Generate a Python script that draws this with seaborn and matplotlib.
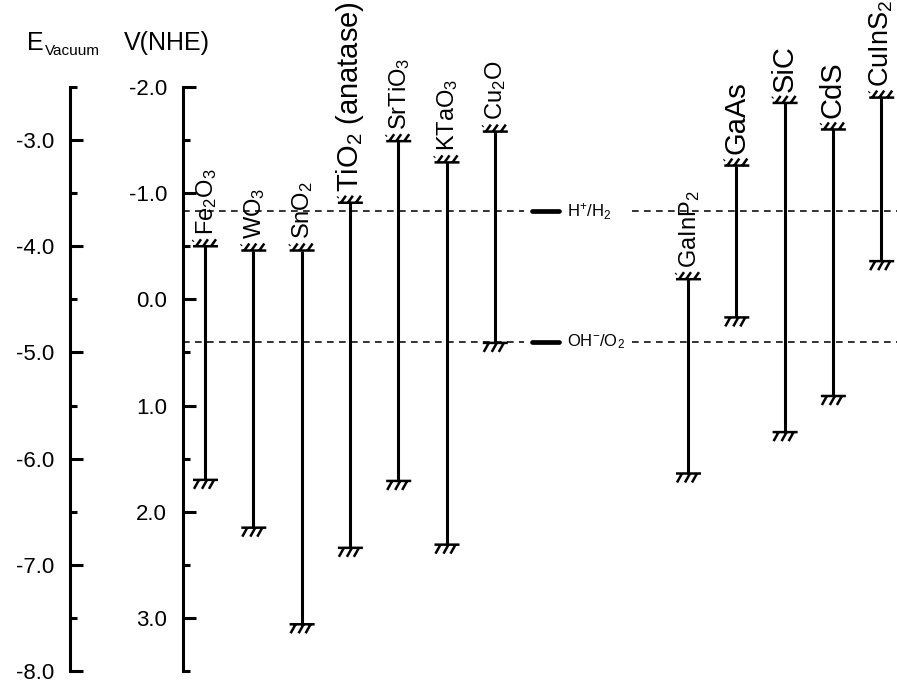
import numpy as np
import pandas as pd
import matplotlib
matplotlib.use("Agg")
import matplotlib.pyplot as plt
from matplotlib.path import Path
from matplotlib.ticker import MultipleLocator, FormatStrFormatter
import seaborn as sns

# ---------------- data ----------------
materials = [r"Fe$_2$O$_3$", r"WO$_3$", r"SnO$_2$", r"TiO$_2$ (anatase)", r"SrTiO$_3$",
             r"KTaO$_3$", r"Cu$_2$O", r"GaInP$_2$", r"GaAs", r"SiC", r"CdS", r"CuInS$_2$"]
cb_nhe = [-0.50, -0.46, -0.46, -0.91, -1.49, -1.29, -1.58, -0.19, -1.26, -1.85, -1.60, -1.90]
vb_nhe = [1.70, 2.15, 3.06, 2.34, 1.71, 2.31, 0.41, 1.64, 0.17, 1.25, 0.91, -0.36]
redox_labels = [r"H$^{+}$/H$_2$", r"OH$^{-}$/O$_2$"]
redox_levels = [-0.83, 0.40]
nhe_ticks = [-2.0, -1.0, 0.0, 1.0, 2.0, 3.0]
vac_ticks = [-3.0, -4.0, -5.0, -6.0, -7.0, -8.0]

# label font sizes (style, kept separate from the data)
label_sizes = [17, 17, 17, 21, 17, 17, 17, 17, 21, 21, 21, 19.5]

# ---------------- style ----------------
sns.set_style("ticks")
plt.rcParams["font.family"] = ["Liberation Sans", "DejaVu Sans"]
plt.rcParams["mathtext.fontset"] = "custom"
plt.rcParams["mathtext.rm"] = "Liberation Sans"
plt.rcParams["mathtext.it"] = "Liberation Sans:italic"
plt.rcParams["mathtext.bf"] = "Liberation Sans:bold"
plt.rcParams["mathtext.sf"] = "Liberation Sans"
plt.rcParams["axes.unicode_minus"] = False
for k in ["text.color", "axes.labelcolor", "xtick.color", "ytick.color", "axes.edgecolor"]:
    plt.rcParams[k] = "black"

W, H = 897, 684
fig = plt.figure(figsize=(W / 100, H / 100), dpi=100)
ax = fig.add_axes([183 / W, 13 / H, 714 / W, 584 / H])

# category positions: oxides group, a gap, then non-oxide group
n_first = 7
pos = [i if i < n_first else i + 3 for i in range(len(materials))]
df = pd.DataFrame({"material": materials, "pos": pos, "cb": cb_nhe, "vb": vb_nhe})

# cap markers (hatched "ground" symbols)
top_verts = [(-12, 0), (13, 0),
             (-9, 0), (-4, 7), (-2, 0), (3, 7), (6, 0), (11, 7),
             (-12.4, 5.0), (-11.6, 5.8)]
top_codes = [Path.MOVETO, Path.LINETO] * 5
bot_verts = [(-12, 0), (13, 0),
             (-6, 0), (-11, -9), (2, 0), (-3, -9), (9, 0), (4, -9)]
bot_codes = [Path.MOVETO, Path.LINETO] * 4
top_cap = Path(top_verts, top_codes)
bot_cap = Path(bot_verts, bot_codes)
msize = 26 * 0.72

ax.vlines(df["pos"], df["cb"], df["vb"], colors="black", lw=2.2, zorder=3)
sns.scatterplot(data=df, x="pos", y="cb", marker=top_cap, s=msize ** 2,
                facecolor="none", edgecolor="black", linewidth=1.8,
                ax=ax, legend=False, zorder=4)
sns.scatterplot(data=df, x="pos", y="vb", marker=bot_cap, s=msize ** 2,
                facecolor="none", edgecolor="black", linewidth=1.8,
                ax=ax, legend=False, zorder=4)

for (_, r), fs in zip(df.iterrows(), label_sizes):
    ax.annotate(r["material"], xy=(r["pos"], r["cb"]), xytext=(5.6, 8.0),
                textcoords="offset points", rotation=90, rotation_mode="anchor",
                ha="left", va="baseline", fontsize=fs)

xmin, xmax = -0.4555, 14.327
for lvl, lab in zip(redox_levels, redox_labels):
    ax.hlines(lvl, xmin, 6.6, colors="#111111", lw=1.2, linestyles=(0, (4.0, 3.2)), zorder=2)
    ax.hlines(lvl, 8.84, xmax, colors="#111111", lw=1.2, linestyles=(0, (4.0, 3.2)), zorder=2)
    ax.plot([6.78, 7.33], [lvl, lvl], color="black", lw=3.4, solid_capstyle="round", zorder=3)
    ax.text(7.49, lvl, lab, fontsize=12, ha="left", va="center")

ax.set_xlim(xmin, xmax)
ax.set_ylim(3.5, -2.0)
ax.set_xlabel("")
ax.set_ylabel("")
ax.set_xticks([])
ax.set_yticks(nhe_ticks)
ax.yaxis.set_minor_locator(MultipleLocator(0.5))
ax.yaxis.set_major_formatter(FormatStrFormatter("%.1f"))
for s in ["top", "right", "bottom"]:
    ax.spines[s].set_visible(False)
ax.spines["left"].set_linewidth(2.2)
ax.tick_params(axis="y", which="major", direction="in", length=9.4, width=2.2,
               labelsize=16, pad=11.5)
ax.tick_params(axis="y", which="minor", direction="in", length=4.7, width=2.2)
ax.tick_params(axis="x", bottom=False, labelbottom=False)

ax2 = ax.twinx()
ax2.set_ylim(-8.0, -2.5)
ax2.set_yticks(vac_ticks)
ax2.yaxis.set_minor_locator(MultipleLocator(0.5))
ax2.yaxis.set_major_formatter(FormatStrFormatter("%.1f"))
for s in ["top", "right", "bottom"]:
    ax2.spines[s].set_visible(False)
ax2.spines["left"].set_visible(True)
ax2.spines["left"].set_position(("axes", (70 - 183) / 714))
ax2.spines["left"].set_linewidth(2.2)
ax2.yaxis.set_ticks_position("left")
ax2.yaxis.set_label_position("left")
ax2.tick_params(axis="y", which="major", direction="in", length=9.4, width=2.2,
                labelsize=16, pad=11.5)
ax2.tick_params(axis="y", which="minor", direction="in", length=4.7, width=2.2)
ax2.tick_params(axis="x", bottom=False, labelbottom=False)

fig.text(27 / W, 1 - 50 / H, "E", fontsize=18, ha="left", va="baseline")
fig.text(45 / W, 1 - 55 / H, "Vacuum", fontsize=11, ha="left", va="baseline")
fig.text(124 / W, 1 - 50 / H, "V(NHE)", fontsize=18, ha="left", va="baseline")

fig.savefig("out.png", dpi=100, facecolor="white")
